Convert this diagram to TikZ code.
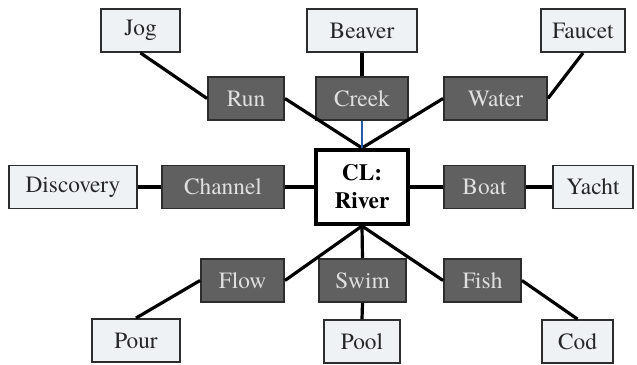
\documentclass[tikz,border=0pt]{standalone}
\usepackage{fontspec}
\setmainfont{texgyretermes}[Extension=.otf, UprightFont=*-regular, BoldFont=*-bold, ItalicFont=*-italic, BoldItalicFont=*-bolditalic]
\usepackage{xcolor}
\usetikzlibrary{positioning}

\definecolor{termfill}{RGB}{238,242,245}
\definecolor{linkfill}{RGB}{96,96,96}
\definecolor{boxline}{RGB}{45,45,45}
\definecolor{creekline}{RGB}{40,90,170}

\begin{document}
\begin{tikzpicture}[x=0.75pt,y=0.75pt,yscale=-1,xscale=1,
    term/.style={draw=boxline, line width=1.4pt, fill=termfill, text=black!85, inner sep=0pt, minimum height=32.25pt, font=\fontsize{17.5}{20}\selectfont},
    link/.style={draw=boxline, line width=1.4pt, fill=linkfill, text=white!88!black, inner sep=0pt, minimum height=32.25pt, font=\fontsize{17.5}{20}\selectfont},
    hub/.style={draw=black, line width=3pt, fill=white, inner sep=0pt, minimum width=69pt, minimum height=55.5pt, align=center, font=\fontsize{17.5}{21}\selectfont\bfseries},
    wire/.style={draw=black, line width=2.4pt}]
    \path[use as bounding box] (0,0) rectangle (637,365);

    % Centre node
    \node [hub] (river) at (362,187) {CL:\\River};

    % Dark link nodes
    \node [link, minimum width=57pt] (run) at (246,98.5) {Run};
    \node [link, minimum width=69pt] (creek) at (362,98.5) {Creek};
    \node [link, minimum width=77.25pt] (water) at (495.5,98.5) {Water};
    \node [link, minimum width=91.5pt] (channel) at (223,187) {Channel};
    \node [link, minimum width=60.75pt] (boat) at (484.5,187) {Boat};
    \node [link, minimum width=62.25pt] (flow) at (242.5,280.5) {Flow};
    \node [link, minimum width=65.25pt] (swim) at (362.5,280.5) {Swim};
    \node [link, minimum width=57.75pt] (fish) at (482.5,280.5) {Fish};

    % Light term nodes
    \node [term, minimum width=59.25pt] (jog) at (140.5,30.5) {Jog};
    \node [term, minimum width=82.5pt] (beaver) at (362,30.5) {Beaver};
    \node [term, minimum width=63pt] (faucet) at (583,30.5) {Faucet};
    \node [term, minimum width=96pt] (discovery) at (73,187) {Discovery};
    \node [term, minimum width=60pt] (yacht) at (593,187) {Yacht};
    \node [term, minimum width=66pt] (pour) at (136,340.5) {Pour};
    \node [term, minimum width=57pt] (pool) at (362,341.5) {Pool};
    \node [term, minimum width=53.25pt] (cod) at (577.5,341.5) {Cod};

    %Straight Lines
    \draw [wire] (jog.south) -- (run.west);
    \draw [wire] (run.east) -- (river.north);
    \draw [wire] (water.west) -- (river.north);
    \draw [wire] (faucet.south) -- (water.east);
    \draw [wire] (beaver.south) -- (creek.north);
    \draw [wire, draw=creekline, line width=1.8pt] (creek.south) -- (river.north);
    \draw [wire] (discovery.east) -- (channel.west);
    \draw [wire] (channel.east) -- (river.west);
    \draw [wire] (river.east) -- (boat.west);
    \draw [wire] (boat.east) -- (yacht.west);
    \draw [wire] (river.south) -- (flow.east);
    \draw [wire] (river.south) -- (swim.north);
    \draw [wire] (river.south) -- (fish.west);
    \draw [wire] (flow.west) -- (pour.north);
    \draw [wire] (swim.south) -- (pool.north);
    \draw [wire] (fish.east) -- (cod.north);
\end{tikzpicture}
\end{document}
